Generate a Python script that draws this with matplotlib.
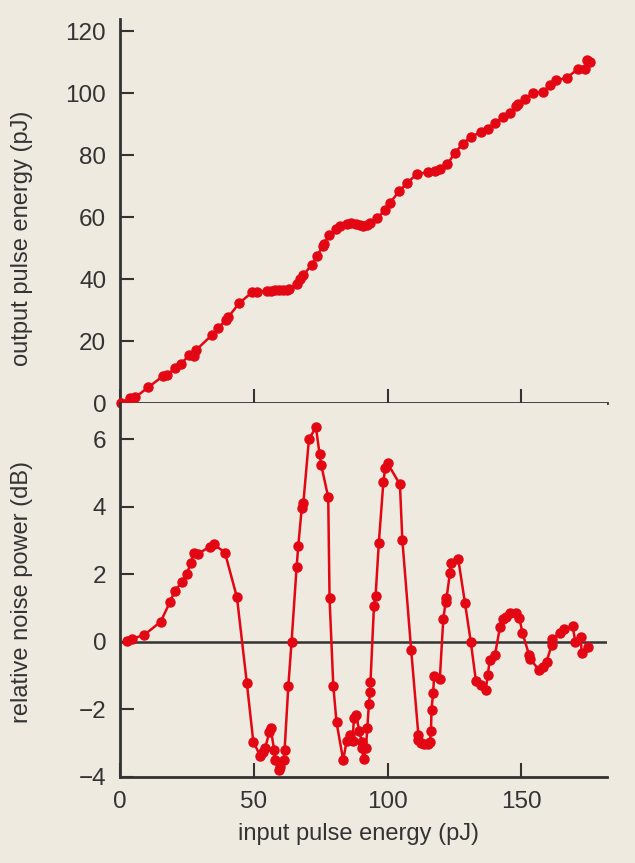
import matplotlib
matplotlib.use('Agg')
import matplotlib.pyplot as plt

# top panel: output vs input pulse energy (pJ)
energy_in = [0.4, 3.7, 5.6, 10.6, 16.2, 17.4, 20.5, 22.7, 25.8, 27.8, 28.4, 34.3, 36.5, 39.6, 40.5,
             44.5, 49.4, 51.1, 54.8, 56.3, 57.8, 59.3, 60.8, 62.3, 63.3, 66.0, 67.2, 68.5, 71.7,
             73.7, 75.7, 76.2, 78.2, 80.7, 82.2, 84.7, 86.5, 88.0, 89.5, 90.9, 92.2, 93.4, 95.9,
             99.0, 100.9, 104.3, 107.3, 110.8, 115.2, 117.7, 119.5, 122.3, 125.1, 128.0, 131.1,
             134.9, 137.4, 140.1, 143.0, 145.7, 147.8, 148.8, 151.3, 154.4, 157.9, 160.6, 163.1,
             166.9, 171.2, 173.7, 174.6, 175.6]
energy_out = [0.0, 1.5, 1.8, 5.1, 8.8, 9.0, 11.2, 12.5, 15.5, 15.2, 17.1, 21.9, 24.1, 26.8, 27.8,
              32.2, 35.8, 35.9, 36.2, 36.3, 36.4, 36.5, 36.5, 36.6, 36.7, 38.4, 39.9, 41.3, 44.7,
              47.5, 50.7, 51.5, 54.2, 56.1, 57.1, 57.9, 58.0, 57.8, 57.5, 57.1, 57.6, 58.2, 59.6,
              62.3, 64.6, 68.4, 71.1, 73.8, 74.6, 74.9, 75.7, 77.1, 80.7, 83.7, 85.9,
              87.5, 88.6, 90.5, 92.2, 93.5, 95.8, 96.7, 98.3, 100.1, 100.4, 102.6, 104.2,
              105.0, 107.9, 107.9, 110.8, 110.1]

# bottom panel: relative noise power (dB)
noise_in = [2.5, 4.4, 9.1, 15.2, 18.7, 20.5, 23.3, 24.9, 26.4, 27.6, 29.0, 33.6, 35.1, 39.2, 43.7,
            47.4, 49.8, 52.4, 53.5, 54.2, 55.8, 56.3, 57.6, 57.9, 59.5, 59.8, 61.3, 61.5, 62.9,
            64.1, 66.0, 66.6, 67.9, 68.5, 70.6, 73.2, 74.6, 75.2, 77.8, 78.3, 79.7, 80.9, 83.4,
            84.7, 86.1, 86.9, 87.4, 88.2, 89.4, 90.3, 90.3, 91.1, 91.9, 92.4, 93.0, 93.4, 93.6,
            94.9, 95.5, 96.7, 98.4, 99.1, 100.0, 104.6, 105.5, 108.8, 111.5, 111.5, 112.3, 113.6,
            115.2, 115.8, 116.2, 116.4, 117.0, 117.4, 119.5, 120.8, 121.7, 122.0, 123.3, 123.5,
            126.4, 128.9, 131.1, 133.0, 134.8, 136.7, 137.4, 138.2, 140.1, 142.0, 143.0, 144.2,
            145.7, 147.9, 149.2, 150.4, 152.9, 153.2, 156.6, 157.9, 159.4, 161.3, 161.6, 164.4,
            166.0, 169.1, 170.2, 172.2, 172.5, 174.7]
noise_db = [0.03, 0.09, 0.21, 0.60, 1.19, 1.52, 1.79, 2.00, 2.33, 2.65, 2.61, 2.82, 2.89, 2.65, 1.32,
            -1.22, -2.95, -3.38, -3.25, -3.15, -2.68, -2.56, -3.20, -3.50, -3.79, -3.70, -3.50, -3.20, -1.30,
            0.00, 2.23, 2.84, 3.96, 4.11, 6.01, 6.36, 5.56, 5.24, 4.29, 1.29, -1.30, -2.38, -3.50,
            -2.93, -2.76, -2.93, -2.26, -2.16, -2.63, -2.95, -3.15, -3.48, -3.15, -2.56, -1.85, -1.49, -1.18,
            1.07, 1.36, 2.92, 4.73, 5.15, 5.29, 4.67, 3.02, -0.24, -2.76, -2.90, -2.98, -3.02,
            -3.02, -2.95, -2.63, -2.01, -1.50, -1.00, -1.10, 0.68, 1.19, 1.29, 2.05, 2.35,
            2.45, 1.16, -0.01, -1.16, -1.29, -1.42, -0.98, -0.53, -0.39, 0.45, 0.67, 0.75,
            0.87, 0.87, 0.72, 0.26, -0.39, -0.50, -0.83, -0.73, -0.58, -0.09, 0.08, 0.28,
            0.39, 0.47, -0.01, 0.14, -0.34, -0.16]

x_ticks = [0, 50, 100, 150]
out_ticks = [0, 20, 40, 60, 80, 100, 120]
noise_ticks = [-4, -2, 0, 2, 4, 6]

bg = '#eeeadf'
red = '#e30613'
ink = '#333333'

plt.rcParams['font.family'] = ['Liberation Sans', 'DejaVu Sans']
plt.rcParams['axes.unicode_minus'] = True

fig = plt.figure(figsize=(6.35, 8.63), dpi=100, facecolor=bg)
ax1 = fig.add_axes([0.189, 0.533, 0.767, 0.445])
ax2 = fig.add_axes([0.189, 0.0997, 0.767, 0.4333])

for ax in (ax1, ax2):
    ax.set_facecolor(bg)
    ax.spines['top'].set_visible(False)
    ax.spines['right'].set_visible(False)
    for s in ('left', 'bottom'):
        ax.spines[s].set_color(ink)
        ax.spines[s].set_linewidth(2)
    ax.tick_params(direction='in', length=10, width=1.5, color=ink,
                   labelsize=17.5, labelcolor=ink, pad=10)
    ax.set_xlim(0, 182)
    ax.set_xticks(x_ticks)

ax1.plot(energy_in, energy_out, color=red, lw=1.8, marker='o', ms=6.5, clip_on=False, zorder=3)
ax1.set_ylim(0, 124)
ax1.set_yticks(out_ticks)
ax1.tick_params(axis='x', labelbottom=False)

ax2.axhline(0, color=ink, lw=1.8, zorder=1)
ax2.plot(noise_in, noise_db, color=red, lw=1.8, marker='o', ms=6.5, clip_on=False, zorder=3)
ax2.set_ylim(-4, 7.08)
ax2.set_yticks(noise_ticks)

fig.text(22 / 635, 1 - 238 / 863, 'output pulse energy (pJ)', rotation=90,
         ha='center', va='center', fontsize=17, color=ink)
fig.text(22 / 635, 1 - 592 / 863, 'relative noise power (dB)', rotation=90,
         ha='center', va='center', fontsize=17, color=ink)
fig.text(358 / 635, 1 - 834 / 863, 'input pulse energy (pJ)',
         ha='center', va='center', fontsize=17, color=ink)

fig.savefig('out.png', dpi=100, facecolor=bg)
